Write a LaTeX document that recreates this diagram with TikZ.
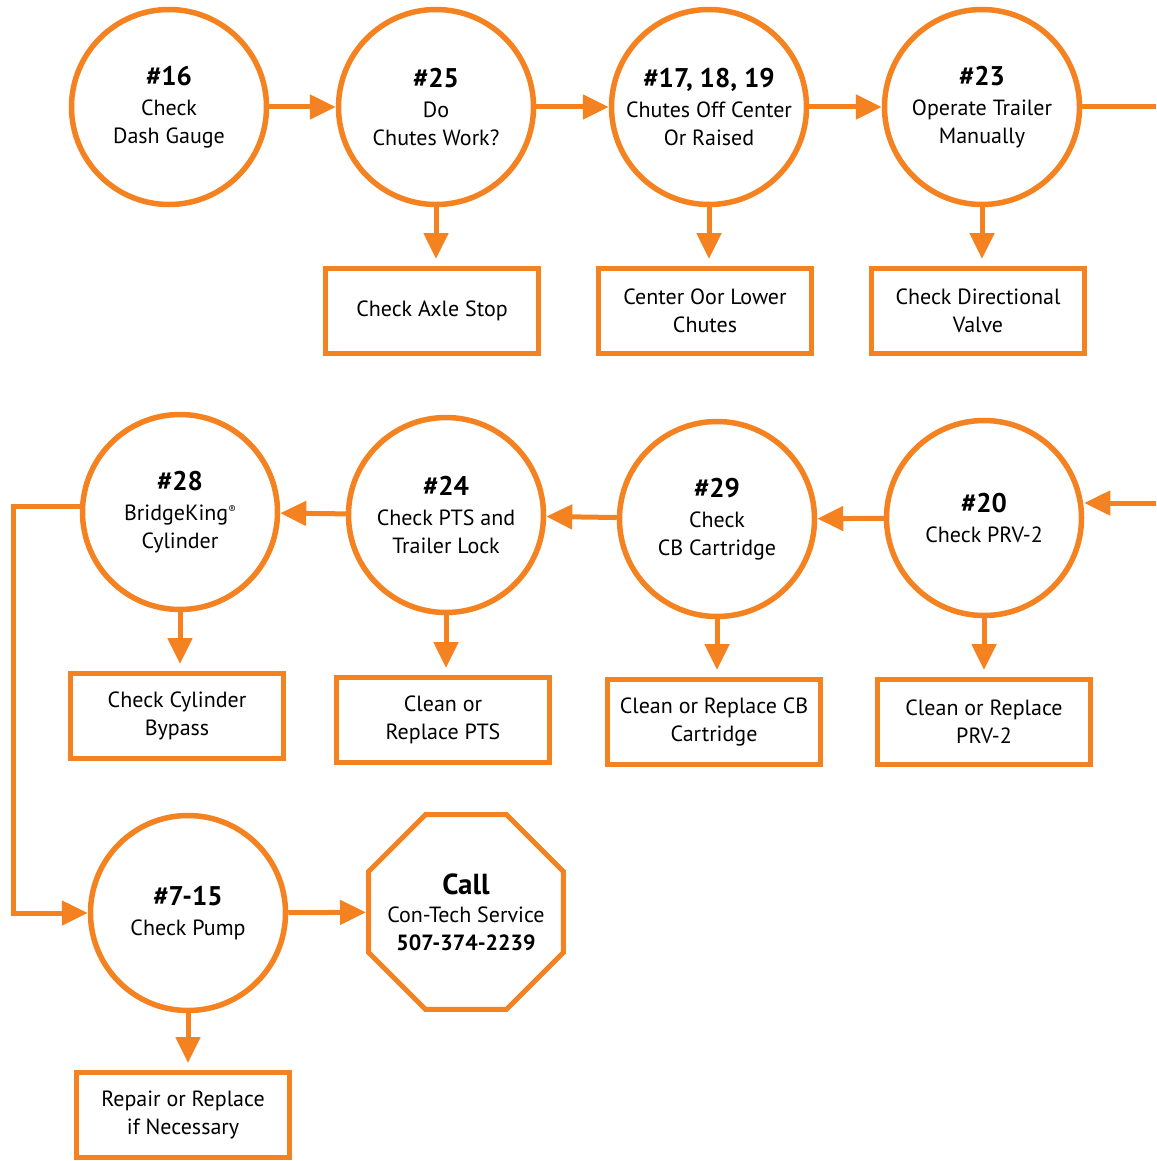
\documentclass[tikz,border=0pt]{standalone}
\usepackage{fontspec}
\setmainfont{PT Sans}
\usetikzlibrary{arrows.meta,positioning,shapes.geometric}
\definecolor{laranja}{RGB}{245,130,32}
\newcommand{\titulo}[1]{{\fontsize{27}{30}\selectfont\bfseries #1}}
\newcommand{\reg}{\raisebox{7pt}{\fontsize{11}{11}\selectfont ®}}

\begin{document}
\begin{tikzpicture}[
    x=1pt, y=-1pt,
    >={Triangle[length=26pt,width=24pt]},
    font=\fontsize{22}{28}\selectfont,
    check/.style={circle, draw=laranja, line width=5.5pt, minimum size=195pt, inner sep=0pt, align=center},
    fix/.style={rectangle, draw=laranja, line width=5pt, minimum width=213pt, minimum height=85pt, align=center},
    callbox/.style={regular polygon, regular polygon sides=8, draw=laranja, line width=5pt, minimum size=211pt, inner sep=-30pt, align=center},
    flow/.style={->, draw=laranja, line width=5pt},
    down/.style={flow, shorten >=7pt}
]
\useasboundingbox (0,0) rectangle (1156,1161);

% First row of checks
\node[check] (c16) at (169,107) {\titulo{\#16}\\[2pt]Check\\Dash Gauge};
\node[check] (c25) at (436,107) {\titulo{\#25}\\[2pt]Do\\Chutes Work?};
\node[check] (c17) at (709,107) {\titulo{\#17, 18, 19}\\[2pt]Chutes Off Center\\Or Raised};
\node[check] (c23) at (982,107) {\titulo{\#23}\\[2pt]Operate Trailer\\Manually};

% First row of fixes
\node[fix] (b25) at (432,311) {Check Axle Stop};
\node[fix] (b17) at (705,311) {Center Oor Lower\\Chutes};
\node[fix] (b23) at (978,311) {Check Directional\\Valve};

% Second row of checks
\node[check] (c28) at (180,512) {\titulo{\#28}\\[2pt]BridgeKing\reg\\Cylinder};
\node[check] (c24) at (446,515) {\titulo{\#24}\\[2pt]Check PTS and\\Trailer Lock};
\node[check] (c29) at (717,519) {\titulo{\#29}\\[2pt]Check\\CB Cartridge};
\node[check] (c20) at (984,518) {\titulo{\#20}\\[2pt]Check PRV-2};

% Second row of fixes
\node[fix] (b28) at (177,716) {Check Cylinder\\Bypass};
\node[fix] (b24) at (443,720) {Clean or\\Replace PTS};
\node[fix] (b29) at (714,722) {Clean or Replace CB\\Cartridge};
\node[fix] (b20) at (984,722) {Clean or Replace\\PRV-2};

% Pump and service call
\node[check] (c715) at (188,913) {\titulo{\#7-15}\\[2pt]Check Pump};
\node[callbox] (call) at (466,912) {{\fontsize{29}{30}\selectfont\bfseries Call}\\Con-Tech Service\\\textbf{507-374-2239}};
\node[fix] (b715) at (183,1115) {Repair or Replace\\if Necessary};

% Free ends
\coordinate (out23) at (1156,107);
\coordinate (in20) at (1156,503);
\coordinate (lft) at (13,506);

% Arrows of the first row
\draw[flow] (c16) -- (c25);
\draw[flow] (c25) -- (c17);
\draw[flow] (c17) -- (c23);
\draw[flow, -] (c23) -- (out23);

% Arrows of the second row
\draw[flow] (in20) -- (in20 -| c20.east);
\draw[flow] (c20) -- (c29);
\draw[flow] (c29) -- (c24);
\draw[flow] (c24) -- (c28);
\draw[flow] (c28.west |- lft) -- (lft) |- (c715);
\draw[flow] (c715) -- (call);

% Arrows down to the fixes
\draw[down] (c25) -- (c25 |- b25.north);
\draw[down] (c17) -- (c17 |- b17.north);
\draw[down] (c23) -- (c23 |- b23.north);
\draw[down] (c28) -- (c28 |- b28.north);
\draw[down] (c24) -- (c24 |- b24.north);
\draw[down] (c29) -- (c29 |- b29.north);
\draw[down] (c20) -- (c20 |- b20.north);
\draw[down] (c715) -- (c715 |- b715.north);

\end{tikzpicture}
\end{document}
